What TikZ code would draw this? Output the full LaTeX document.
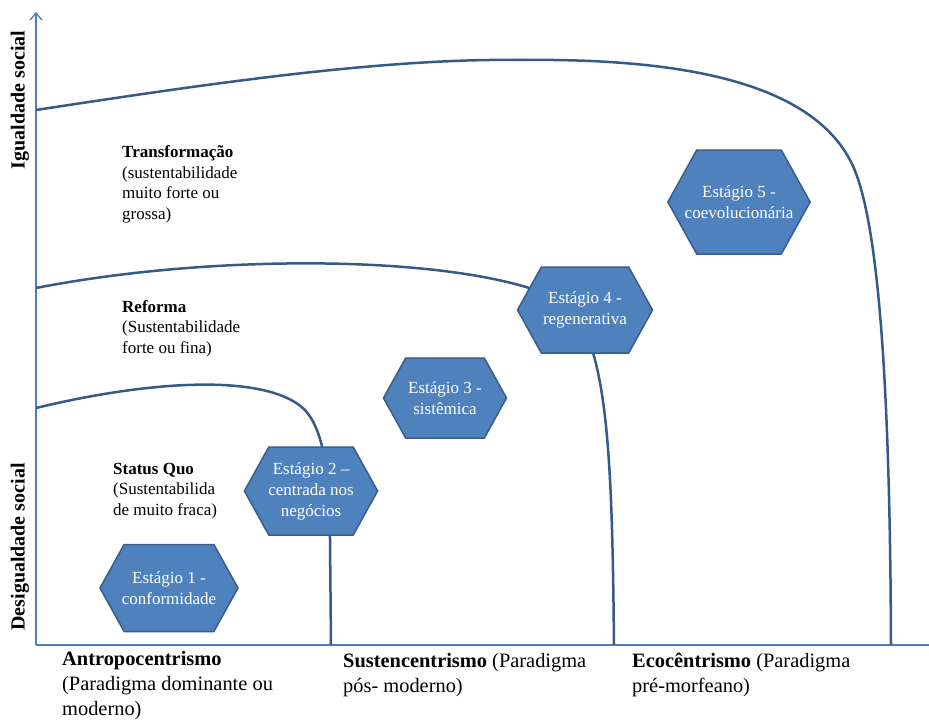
\documentclass[tikz,border=0pt]{standalone}
\usepackage{fontspec}
\setmainfont{Liberation Serif}
\usetikzlibrary{arrows.meta,positioning,shapes.symbols}

\definecolor{hexfill}{RGB}{79,129,189}
\definecolor{hexline}{RGB}{56,93,138}
\definecolor{zonecol}{RGB}{52,90,138}
\definecolor{axiscol}{RGB}{74,126,187}

\newcommand{\lblfont}{\fontsize{17}{20.5}\selectfont}
\newcommand{\botfont}{\fontsize{20.4}{25}\selectfont}
\newcommand{\hexfont}{\fontsize{17}{21}\selectfont}
\newcommand{\axfont}{\fontsize{20}{24}\selectfont\bfseries}

\tikzset{
  hexa/.style={signal, signal to=east and west, signal pointer angle=122,
    draw=hexline, fill=hexfill, line width=1.5pt, text=white,
    align=center, font=\hexfont, inner sep=0pt},
  zone/.style={draw=zonecol, line width=2.5pt},
  lbl/.style={anchor=base west, align=left, inner sep=0pt}
}

\begin{document}
\begin{tikzpicture}[x=1pt,y=-1pt]
  \useasboundingbox (0,0) rectangle (929,720);

  % axes
  \coordinate (O) at (36,645);
  \coordinate (top) at (36,12);
  \coordinate (right) at (929,645);
  \draw [axiscol, line width=1.3pt] (O) -- (right);
  \draw [axiscol, line width=1.3pt, -{Straight Barb[length=7pt,width=12pt]}] (O) -- (top);

  \node (up) [rotate=90, font=\axfont] at (20,100) {Igualdade social};
  \node (down) [rotate=90, font=\axfont] at (20,547) {Desigualdade social};

  % zone boundaries
  \draw [zone] (36,408) .. controls (160,378) and (270,375) .. (305,410)
    .. controls (325,432) and (330,480) .. (330,540) -- (331,645);
  \draw [zone] (36,288) .. controls (220,252) and (470,255) .. (560,300)
    .. controls (608,330) and (612,450) .. (614,645);
  \draw [zone] (36,110) .. controls (200,85) and (380,58) .. (520,60)
    .. controls (690,58) and (810,85) .. (850,160)
    .. controls (880,215) and (890,400) .. (891,645);

  % stages
  \node (s1) [hexa, minimum width=138pt, minimum height=87pt, inner xsep=-2.5pt] at (169,588) {Estágio 1 -\\conformidade};
  \node (s2) [hexa, minimum width=133pt, minimum height=88pt, inner xsep=-0.5pt] at (311,491) {Estágio 2 –\\centrada nos\\negócios};
  \node (s3) [hexa, minimum width=123pt, minimum height=80pt] at (445,398) {Estágio 3 -\\sistêmica};
  \node (s4) [hexa, minimum width=135pt, minimum height=86pt] at (585,310) {Estágio 4 -\\regenerativa};
  \node (s5) [hexa, minimum width=142pt, minimum height=104pt, inner xsep=-12pt] at (739,202) {Estágio 5 -\\coevolucionária};

  % zone labels (placed at the last line)
  \node (transf) [lbl, font=\lblfont] at (122,219) {\textbf{Transformação}\\(sustentabilidade\\muito forte ou\\grossa)};
  \node (reform) [lbl, font=\lblfont] at (122,353) {\textbf{Reforma}\\(Sustentabilidade\\forte ou fina)};
  \node (quo) [lbl, font=\lblfont] at (113,515) {\textbf{Status Quo}\\(Sustentabilida\\de muito fraca)};

  % paradigms
  \node (antro) [lbl, font=\botfont] at (62,715) {\textbf{Antropocentrismo}\\(Paradigma dominante ou\\moderno)};
  \node (sust) [lbl, font=\botfont] at (343,692) {\textbf{Sustencentrismo} (Paradigma\\pós- moderno)};
  \node (eco) [lbl, font=\botfont] at (632,692) {\textbf{Ecocêntrismo} (Paradigma\\pré-morfeano)};
\end{tikzpicture}
\end{document}
